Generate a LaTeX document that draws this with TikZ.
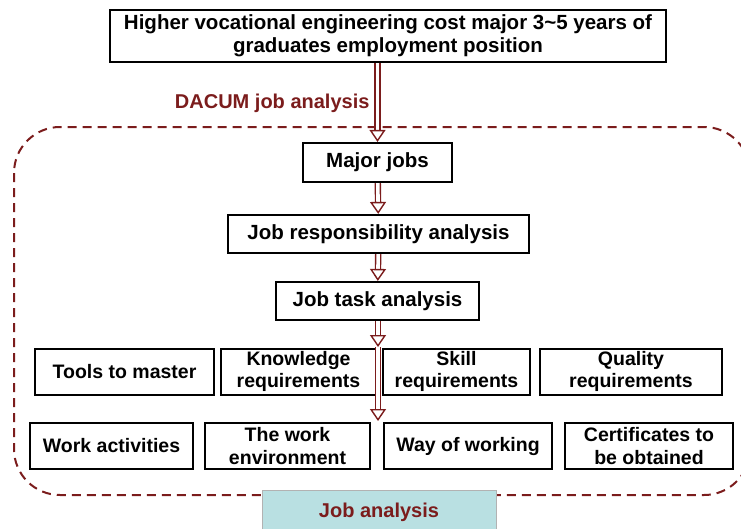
\documentclass[tikz,border=0pt]{standalone}
\usepackage{fontspec}
\setmainfont{Liberation Sans}
\usetikzlibrary{arrows.meta,positioning}
\definecolor{darkred}{HTML}{7B1C1C}
\definecolor{lightteal}{HTML}{B9E0E2}
\begin{document}
\begin{tikzpicture}[x=1pt,y=-1pt,>={Triangle[open,length=12pt,width=16pt,line width=1.4pt,fill=white]}]
\tikzstyle{box}=[draw,line width=2.2pt,align=center,inner sep=0pt,font=\fontsize{20.5}{23}\selectfont\bfseries]
\tikzstyle{item}=[draw,line width=2pt,align=center,inner sep=0pt,minimum height=46pt,font=\fontsize{19.5}{22.5}\selectfont\bfseries]
\tikzstyle{flow}=[darkred,double,double distance=3.6pt,line width=1.4pt,->]
\useasboundingbox (0,0) rectangle (741,528);
\begin{scope}
\clip (0,0) rectangle (741,528);
% dashed frame
\draw[darkred,line width=2pt,dash pattern=on 9pt off 6pt,rounded corners=46pt] (14,127) rectangle (750,495);
\node[box,minimum width=556pt,minimum height=52pt] (grad) at (388,36) {Higher vocational engineering cost major 3\textasciitilde5 years of\\graduates employment position};
\node[anchor=east,text=darkred,font=\fontsize{20}{23}\selectfont\bfseries] (dacum) at (373,103) {DACUM job analysis};
\node[box,minimum width=149pt,minimum height=39pt] (major) at (377.5,162.5) {Major jobs};
\node[box,minimum width=301pt,minimum height=38pt] (resp) at (378.5,234) {Job responsibility analysis};
\node[box,minimum width=203pt,minimum height=38pt] (task) at (377.5,301) {Job task analysis};
% requirements row
\node[item,minimum width=179pt] (tools) at (124.5,371.5) {Tools to master};
\node[item,minimum width=155pt] (know) at (298.5,371.5) {Knowledge\\requirements};
\node[item,minimum width=147pt] (skill) at (456.5,371.5) {Skill\\requirements};
\node[item,minimum width=182pt] (quality) at (631,371.5) {Quality\\requirements};
% work row
\node[item,minimum width=163pt] (work) at (111.5,446) {Work activities};
\node[item,minimum width=165pt] (env) at (287.5,446) {The work\\environment};
\node[item,minimum width=168pt] (way) at (468,446) {Way of working};
\node[item,minimum width=168pt] (cert) at (649,446) {Certificates to\\be obtained};
\node[draw=gray!60,line width=0.6pt,fill=lightteal,minimum width=234pt,minimum height=44pt,text=darkred,font=\fontsize{20}{23}\selectfont\bfseries] (jobana) at (379,512) {Job analysis};
\coordinate (rowa) at (378,347);
\coordinate (rowb) at (378,421);
\draw[flow] (grad.south -| major) -- (major.north);
\draw[flow] (major) -- (resp);
\draw[flow] (resp) -- (task);
\draw[flow] (task.south -| rowa) -- (rowa);
\draw[flow] (rowa) -- (rowb);
\end{scope}
\end{tikzpicture}
\end{document}
